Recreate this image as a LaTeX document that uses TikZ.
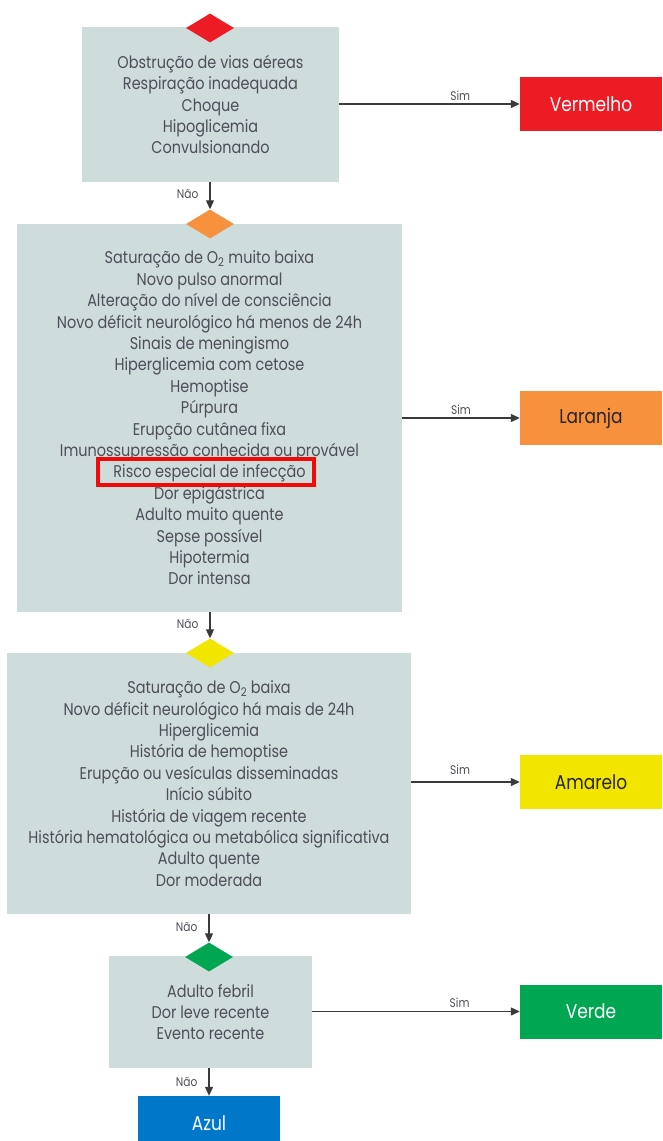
\documentclass[tikz,border=0pt]{standalone}
\usepackage{fontspec}
\setmainfont{Poppins}[FakeStretch=0.85]
\usetikzlibrary{shapes.geometric,arrows.meta}
\definecolor{boxgray}{HTML}{CFDCDC}
\definecolor{txtgray}{HTML}{4E4E58}
\definecolor{arrgray}{HTML}{3A3A3A}
\definecolor{cred}{HTML}{ED1C24}
\definecolor{corange}{HTML}{F7913D}
\definecolor{cyellow}{HTML}{F2E500}
\definecolor{cgreen}{HTML}{00A651}
\definecolor{cblue}{HTML}{0077C8}
\definecolor{hlred}{HTML}{F00A0A}
\begin{document}
\begin{tikzpicture}[x=1pt,y=-1pt,
  gbox/.style={rectangle, fill=boxgray, draw=none, align=center, inner sep=0pt,
    text=txtgray, font=\fontsize{17}{21.4}\selectfont},
  outbox/.style={rectangle, draw=none, inner sep=0pt, minimum width=142pt,
    minimum height=54pt, font=\fontsize{20}{22}\selectfont},
  gem/.style={diamond, draw=none, inner sep=0pt, minimum width=48pt, minimum height=29pt},
  conn/.style={draw=arrgray, line width=1.2pt, -{Triangle[length=9pt,width=8pt]}},
  lab/.style={text=txtgray, font=\fontsize{12.5}{13}\selectfont, inner sep=1pt}
]
\useasboundingbox (0,0) rectangle (662,1141);
\clip (0,0) rectangle (662,1141);

% boxes
\node[gbox, minimum width=257pt, minimum height=155pt] (b1) at (210.5,104.5)
  {Obstrução de vias aéreas\\Respiração inadequada\\Choque\\Hipoglicemia\\Convulsionando};
\node[gbox, minimum width=385pt, minimum height=388pt] (b2) at (209.5,418)
  {Saturação de O\textsubscript{2} muito baixa\\Novo pulso anormal\\Alteração do nível de consciência\\Novo déficit neurológico há menos de 24h\\Sinais de meningismo\\Hiperglicemia com cetose\\Hemoptise\\Púrpura\\Erupção cutânea fixa\\Imunossupressão conhecida ou provável\\Risco especial de infecção\\Dor epigástrica\\Adulto muito quente\\Sepse possível\\Hipotermia\\Dor intensa};
\node[gbox, minimum width=404pt, minimum height=261pt] (b3) at (209,783.5)
  {Saturação de O\textsubscript{2} baixa\\Novo déficit neurológico há mais de 24h\\Hiperglicemia\\História de hemoptise\\Erupção ou vesículas disseminadas\\Início súbito\\História de viagem recente\\História hematológica ou metabólica significativa\\Adulto quente\\Dor moderada};
\node[gbox, minimum width=203pt, minimum height=112pt] (b4) at (210.5,1012)
  {Adulto febril\\Dor leve recente\\Evento recente};

% diamonds
\node[gem, fill=cred] (d1) at (210,28) {};
\node[gem, fill=corange] (d2) at (210,224) {};
\node[gem, fill=cyellow] (d3) at (210,653) {};
\node[gem, fill=cgreen] (d4) at (209,957) {};

% outcomes
\node[outbox, fill=cred, text=white] (o1) at (591,104) {Vermelho};
\node[outbox, fill=corange, text=black!85] (o2) at (591,418) {Laranja};
\node[outbox, fill=cyellow, text=black!85] (o3) at (591,782) {Amarelo};
\node[outbox, fill=cgreen, text=white] (o4) at (591,1011.5) {Verde};
\node[outbox, fill=cblue, text=white] (o5) at (209,1123) {Azul};

% highlight
\node[draw=hlred, line width=3.2pt, minimum width=216pt, minimum height=26pt, inner sep=0pt] (hl) at (206,472) {};

% Sim connectors
\draw[conn] (b1.east |- o1.west) -- node[lab, above=2pt, pos=0.67] {Sim} (o1.west);
\draw[conn] (b2.east |- o2.west) -- node[lab, above=2pt, pos=0.5] {Sim} (o2.west);
\draw[conn] (b3.east |- o3.west) -- node[lab, above=6pt, pos=0.45] {Sim} (o3.west);
\draw[conn] (b4.east |- o4.west) -- node[lab, above=2pt, pos=0.71] {Sim} (o4.west);

% Não connectors
\draw[conn] (b1.south -| d2.north) -- node[lab, left=10pt, pos=0.45] {Não} (d2.north);
\draw[conn] (b2.south -| d3.north) -- node[lab, left=10pt, pos=0.45] {Não} (d3.north);
\draw[conn] (b3.south -| d4.north) -- node[lab, left=10pt, pos=0.45] {Não} (d4.north);
\draw[conn] (b4.south -| o5.north) -- node[lab, left=10pt, pos=0.5] {Não} (o5.north);
\end{tikzpicture}
\end{document}
